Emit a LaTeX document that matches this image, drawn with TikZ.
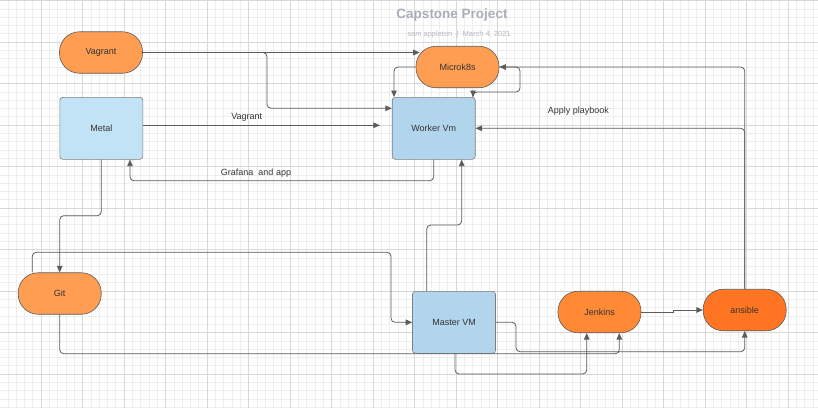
\documentclass[tikz,border=0pt]{standalone}
\usepackage{fontspec}
\setmainfont{Liberation Sans}
\usetikzlibrary{arrows.meta,calc}
\definecolor{pillA}{HTML}{FF9D52}
\definecolor{pillB}{HTML}{FF8934}
\definecolor{pillC}{HTML}{FF7521}
\definecolor{boxA}{HTML}{C2E3F5}
\definecolor{boxB}{HTML}{B2D5EE}
\definecolor{gridmin}{HTML}{EEEEEE}
\definecolor{gridmaj}{HTML}{D8D8D8}
\definecolor{linec}{HTML}{5C5C5C}
\definecolor{txt}{HTML}{333333}
\definecolor{titlec}{HTML}{A9ADB8}
\begin{document}
\begin{tikzpicture}[x=1pt,y=-1pt,
  pill/.style={draw=linec, line width=0.6pt, rounded corners=20pt, minimum width=83pt, minimum height=41.5pt, inner sep=0pt, font=\fontsize{9}{10}\selectfont, text=txt},
  boxn/.style={draw=linec!80, line width=0.6pt, rounded corners=3pt, minimum width=83pt, minimum height=62pt, inner sep=0pt, font=\fontsize{9}{10}\selectfont, text=txt},
  conn/.style={draw=linec, line width=0.8pt, rounded corners=4pt, -{Triangle[length=6.5pt,width=5.5pt]}},
  lbl/.style={font=\fontsize{9}{10}\selectfont, text=txt, inner sep=0pt}
]
\useasboundingbox (0,0) rectangle (818,408);
\fill[white] (0,0) rectangle (818,408);
% grid
\begin{scope}
\clip (0,0) rectangle (818,408);
\foreach \i in {0,...,99} {
  \draw[gridmin, line width=0.6pt] ({-0.5+8.3*\i},0) -- ({-0.5+8.3*\i},408);
}
\foreach \i in {0,...,49} {
  \draw[gridmin, line width=0.6pt] (0,{0.5+8.3*\i}) -- (818,{0.5+8.3*\i});
}
\foreach \i in {0,...,20} {
  \draw[gridmaj, line width=0.8pt] ({-0.5+41.5*\i},0) -- ({-0.5+41.5*\i},408);
}
\foreach \i in {0,...,10} {
  \draw[gridmaj, line width=0.8pt] (0,{0.5+41.5*\i}) -- (818,{0.5+41.5*\i});
}
\end{scope}

% title
\node[font=\bfseries\fontsize{13.5}{15}\selectfont, text=titlec] (title) at (452,15) {Capstone Project};
\node[font=\fontsize{7.5}{8}\selectfont, text=titlec!85] (sub) at (459,34.7) {sam appleton \ \textbar\ \ March 4, 2021};

% nodes
\node[pill, fill=pillA] (vag) at (101,52.5) {Vagrant};
\node[boxn, fill=boxA] (metal) at (101.3,128.3) {Metal};
\node[pill, fill=pillA] (micro) at (457.5,67) {Microk8s};
\node[boxn, fill=boxB] (worker) at (433.7,128.3) {Worker Vm};
\node[pill, fill=pillA] (git) at (59.7,293.5) {Git};
\node[boxn, fill=boxB] (master) at (454,322.3) {Master VM};
\node[pill, fill=pillB] (jenkins) at (599.5,312) {Jenkins};
\node[pill, fill=pillC] (ansible) at (744.7,310) {ansible};

% coordinates for bends
\coordinate (b2) at (267,52.5);
\coordinate (b4) at (130,180.7);
\coordinate (b6) at (520,92);
\coordinate (b9) at (461.7,225);
\coordinate (b10) at (391,252.3);
\coordinate (b11) at (101.3,215.7);
\coordinate (b12) at (619.3,353.7);
\coordinate (b13) at (516,351.7);
\coordinate (b14) at (586.7,374);
\coordinate (b15) at (673,310);

% connectors
\draw[conn] (vag.east) -- ($(vag.east -| micro.west)+(4,0)$);
\draw[conn] (vag.east) -- (b2) |- ([yshift=20pt]worker.west);
\draw[conn] ([yshift=3pt]metal.east) -- ([xshift=-12pt,yshift=3pt]worker.west);
\node[lbl] (l1) at (246.7,117.3) {Vagrant};
\draw[conn] (worker.south) |- (b4) -- (b4 |- metal.south);
\node[lbl] (l2) at (256,173.3) {Grafana \ and app};
\draw[conn] (micro.west) -| ([xshift=-39.7pt]worker.north);
\draw[conn] (micro.east) -| (b6) -| ([xshift=39.3pt]worker.north);
\draw[conn] (ansible.north) |- (micro.east);
\draw[conn] (ansible.north) |- (worker.east);
\node[lbl] (l3) at (578.3,111.3) {Apply playbook};
\draw[conn] ([xshift=-27.3pt]master.north) |- (b9) -- (b9 |- worker.south);
\draw[conn] ([xshift=-27.4pt]git.north) |- (b10) |- (master.west);
\draw[conn] (metal.south) -- (b11) -| (git.north);
\draw[conn] (git.south) |- (b12) -- (b12 |- jenkins.south);
\draw[conn] (master.east) -| (b13) -| (ansible.south);
\draw[conn] ([xshift=1pt]master.south) |- (b14) -- (b14 |- jenkins.south);
\draw[conn, rounded corners=0pt] (jenkins.east) -- (b15 |- jenkins.east) -- (b15) -- (ansible.west);
\end{tikzpicture}
\end{document}
